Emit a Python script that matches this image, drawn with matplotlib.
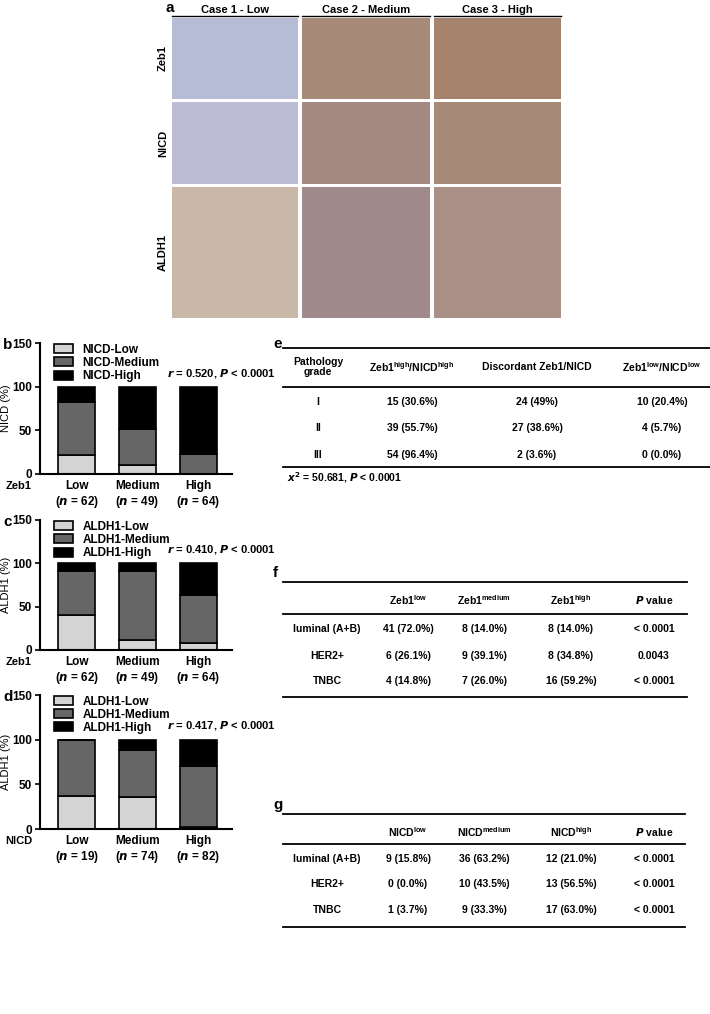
import matplotlib
matplotlib.use("Agg")
import matplotlib.pyplot as plt
from matplotlib.patches import Rectangle

plt.rcParams['font.family'] = ['Liberation Sans', 'DejaVu Sans']
plt.rcParams['font.weight'] = 'bold'

W, H = 710, 1014
fig = plt.figure(figsize=(7.1, 10.14), dpi=100)

def fx(x): return x / W
def fy(y): return 1 - y / H

# ---------- panel a (image grid placeholders) ----------
cases = ["Case 1 - Low", "Case 2 - Medium", "Case 3 - High"]
stains = ["Zeb1", "NICD", "ALDH1"]
tile_colors = [["#b7bcd6", "#a88a78", "#a6836c"],
               ["#bcbdd4", "#a48a82", "#a88a78"],
               ["#c9b8a8", "#a08a8c", "#ab9088"]]
cols_px = [(172, 298), (302, 430), (434, 561)]
rows_px = [(18, 99), (102, 184), (187, 318)]
fig.text(fx(165), fy(8), "a", fontsize=11, fontweight='bold', ha='left', va='center')
for j, (x0, x1) in enumerate(cols_px):
    fig.text(fx((x0 + x1) / 2), fy(10), cases[j], fontsize=8, ha='center', va='center')
    fig.add_artist(plt.Line2D([fx(x0), fx(x1)], [fy(16), fy(16)], color='black', lw=1))
for i, (y0, y1) in enumerate(rows_px):
    fig.text(fx(163), fy((y0 + y1) / 2), stains[i], fontsize=8, rotation=90, ha='center', va='center')
    for j, (x0, x1) in enumerate(cols_px):
        fig.add_artist(Rectangle((fx(x0), fy(y1)), fx(x1 - x0), (y1 - y0) / H,
                                 facecolor=tile_colors[i][j], edgecolor='none'))

# ---------- bar panels ----------
groups = ["Low", "Medium", "High"]
b_n = [62, 49, 64]
b_low = [22, 10, 0]
b_med = [61, 42, 23]
b_high = [17, 48, 77]
c_n = [62, 49, 64]
c_low = [40, 12, 8]
c_med = [51, 79, 55]
c_high = [9, 9, 37]
d_n = [19, 74, 82]
d_low = [37, 36, 2]
d_med = [63, 52, 68]
d_high = [0, 12, 30]

panels = [
    ("b", b_low, b_med, b_high, b_n, "NICD", "Zeb1", "0.520", 343, 474),
    ("c", c_low, c_med, c_high, c_n, "ALDH1", "Zeb1", "0.410", 520, 650),
    ("d", d_low, d_med, d_high, d_n, "ALDH1", "NICD", "0.417", 695, 829),
]
for lab, lo, me, hi, n, marker, xl, r, ytop, ybot in panels:
    ax = fig.add_axes([fx(40), fy(ybot), fx(232 - 40), (ybot - ytop) / H])
    x = [0, 1, 2]
    kw = dict(width=0.6, edgecolor='black', linewidth=1.2)
    ax.bar(x, lo, color='#d4d4d4', label=f"{marker}-Low", **kw)
    ax.bar(x, me, bottom=lo, color='#666666', label=f"{marker}-Medium", **kw)
    bot = [a + b for a, b in zip(lo, me)]
    ax.bar(x, hi, bottom=bot, color='black', label=f"{marker}-High", **kw)
    ax.set_ylim(0, 150)
    ax.set_xlim(-0.6, 2.55)
    ax.set_yticks([0, 50, 100, 150])
    ax.set_xticks(x)
    ax.set_xticklabels([f"{g}\n($\\it{{n}}$ = {k})" for g, k in zip(groups, n)], fontsize=8.5)
    ax.tick_params(axis='y', labelsize=8.5, width=1.2, pad=2)
    ax.tick_params(axis='x', length=0, pad=4)
    for s in ['top', 'right']:
        ax.spines[s].set_visible(False)
    for s in ['left', 'bottom']:
        ax.spines[s].set_linewidth(1.5)
    ax.set_ylabel(f"{marker} (%)", fontsize=8, labelpad=1)
    ax.legend(loc='upper left', bbox_to_anchor=(0.05, 1.03), frameon=False, fontsize=8.5,
              handlelength=1.6, handleheight=0.8, labelspacing=0.1, borderaxespad=0)
    ax.text(0.66, 0.77, f"$\\it{{r}}$ = {r}, $\\it{{P}}$ < 0.0001", transform=ax.transAxes,
            fontsize=8, ha='left', va='center')
    fig.text(fx(3), fy(ytop + 2), lab, fontsize=11, fontweight='bold', ha='left', va='center')
    fig.text(fx(19), fy(ybot + 12), xl, fontsize=8, ha='center', va='center')

# ---------- tables ----------
def hline(x0, x1, y, lw=1.3):
    fig.add_artist(plt.Line2D([fx(x0), fx(x1)], [fy(y), fy(y)], color='black', lw=lw))

e_head = ["Pathology\ngrade", "Zeb1$^{\\mathregular{high}}$/NICD$^{\\mathregular{high}}$",
          "Discordant Zeb1/NICD", "Zeb1$^{\\mathregular{low}}$/NICD$^{\\mathregular{low}}$"]
e_grade = ["I", "II", "III"]
e_conc_high = ["15 (30.6%)", "39 (55.7%)", "54 (96.4%)"]
e_disc = ["24 (49%)", "27 (38.6%)", "2 (3.6%)"]
e_conc_low = ["10 (20.4%)", "4 (5.7%)", "0 (0.0%)"]
e_cx = [318, 412, 537, 662]
fig.text(fx(273), fy(344), "e", fontsize=11, fontweight='bold', ha='left', va='center')
hline(283, 710, 348); hline(283, 710, 387); hline(283, 710, 467)
for cx, h in zip(e_cx, e_head):
    fig.text(fx(cx), fy(367), h, fontsize=7.5, ha='center', va='center', linespacing=1.1)
for i, yy in enumerate([402, 428, 455]):
    for cx, v in zip(e_cx, [e_grade[i], e_conc_high[i], e_disc[i], e_conc_low[i]]):
        fig.text(fx(cx), fy(yy), v, fontsize=7.5, ha='center', va='center')
fig.text(fx(287), fy(478), "$\\it{x}^{2}$ = 50.681, $\\it{P}$ < 0.0001", fontsize=7.5, ha='left', va='center')

subtypes = ["luminal (A+B)", "HER2+", "TNBC"]
f_low = ["41 (72.0%)", "6 (26.1%)", "4 (14.8%)"]
f_med = ["8 (14.0%)", "9 (39.1%)", "7 (26.0%)"]
f_high = ["8 (14.0%)", "8 (34.8%)", "16 (59.2%)"]
f_p = ["< 0.0001", "0.0043", "< 0.0001"]
g_low = ["9 (15.8%)", "0 (0.0%)", "1 (3.7%)"]
g_med = ["36 (63.2%)", "10 (43.5%)", "9 (33.3%)"]
g_high = ["12 (21.0%)", "13 (56.5%)", "17 (63.0%)"]
g_p = ["< 0.0001", "< 0.0001", "< 0.0001"]

def table(lab, name, lo, me, hi, p, ytop, yhl, ybot, yhead, rows_y, xr):
    fig.text(fx(273), fy(ytop - 9), lab, fontsize=11, fontweight='bold', ha='left', va='center')
    hline(283, xr, ytop); hline(283, xr, yhl); hline(283, xr, ybot)
    cx = [327, 408, 484, 571, 654]
    heads = ["", f"{name}$^{{\\mathregular{{low}}}}$", f"{name}$^{{\\mathregular{{medium}}}}$",
             f"{name}$^{{\\mathregular{{high}}}}$", "$\\it{P}$ value"]
    for c, h in zip(cx, heads):
        fig.text(fx(c), fy(yhead), h, fontsize=7.5, ha='center', va='center')
    for i, yy in enumerate(rows_y):
        for c, v in zip(cx, [subtypes[i], lo[i], me[i], hi[i], p[i]]):
            fig.text(fx(c), fy(yy), v, fontsize=7.5, ha='center', va='center')

table("f", "Zeb1", f_low, f_med, f_high, f_p, 582, 614, 697, 600, [629, 656, 681], 687)
table("g", "NICD", g_low, g_med, g_high, g_p, 814, 844, 927, 832, [859, 884, 910], 685)

fig.savefig("out.png", dpi=100)
